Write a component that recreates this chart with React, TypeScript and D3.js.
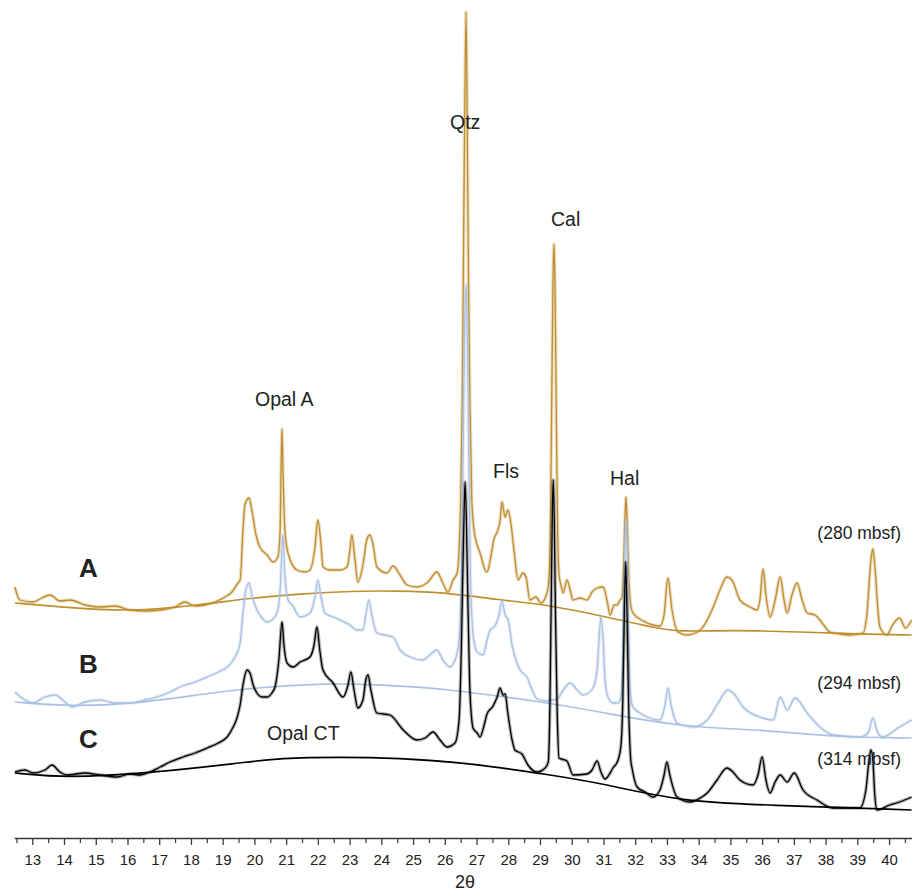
import React, { useEffect, useRef } from 'react';
import * as d3 from 'd3';

type Pt = [number, number];

// 2θ (deg) vs stacked intensity (arbitrary units)
const patternA: Pt[] = [
  [12.45, 233], [12.61, 220], [13.02, 218], [13.3, 222], [13.56, 225], [13.87, 219], [14.19, 220], [14.66, 215],
  [15.13, 213], [15.61, 214], [16.08, 210], [16.55, 209], [17.03, 210], [17.5, 213], [17.81, 218], [18.13, 214],
  [18.44, 215], [18.76, 218], [19.07, 223], [19.29, 228], [19.48, 237], [19.55, 240], [19.64, 290], [19.7, 315],
  [19.83, 322], [19.92, 310], [20.05, 285], [20.17, 273], [20.4, 265], [20.59, 258], [20.74, 263], [20.81, 290],
  [20.84, 350], [20.87, 391], [20.9, 350], [20.96, 290], [21.06, 267], [21.34, 250], [21.59, 248], [21.75, 250],
  [21.91, 273], [22.0, 300], [22.1, 275], [22.16, 253], [22.38, 250], [22.7, 250], [22.92, 253], [23.01, 270],
  [23.07, 285], [23.17, 260], [23.26, 238], [23.42, 255], [23.54, 280], [23.64, 285], [23.74, 275], [23.86, 253],
  [24.18, 247], [24.37, 254], [24.59, 245], [24.81, 235], [25.12, 233], [25.47, 238], [25.75, 248], [25.94, 237],
  [26.1, 228], [26.26, 240], [26.39, 247], [26.45, 270], [26.5, 320], [26.55, 420], [26.58, 530], [26.62, 680],
  [26.67, 808], [26.71, 680], [26.75, 530], [26.79, 420], [26.85, 320], [26.92, 290], [27.02, 275], [27.11, 267],
  [27.27, 250], [27.33, 248], [27.46, 265], [27.55, 281], [27.65, 288], [27.74, 299], [27.8, 318], [27.9, 303],
  [27.99, 310], [28.09, 295], [28.18, 270], [28.31, 240], [28.46, 247], [28.56, 243], [28.68, 220], [28.87, 223],
  [29.03, 217], [29.22, 227], [29.28, 240], [29.33, 300], [29.37, 420], [29.41, 540], [29.44, 576], [29.47, 540],
  [29.51, 420], [29.55, 300], [29.6, 245], [29.66, 235], [29.73, 227], [29.85, 240], [29.95, 230], [30.04, 220],
  [30.26, 222], [30.48, 220], [30.64, 228], [30.8, 232], [30.99, 233], [31.11, 220], [31.21, 205], [31.34, 215],
  [31.43, 215], [31.52, 220], [31.58, 222], [31.63, 250], [31.67, 295], [31.71, 323], [31.75, 295], [31.79, 250],
  [31.86, 215], [31.93, 207], [32.25, 199], [32.56, 195], [32.78, 194], [32.91, 205], [33.03, 242], [33.16, 210],
  [33.35, 188], [33.63, 185], [34.05, 190], [34.27, 200], [34.46, 213], [34.67, 230], [34.89, 243], [35.05, 240],
  [35.3, 220], [35.62, 213], [35.84, 210], [35.93, 220], [36.03, 251], [36.12, 225], [36.25, 203], [36.41, 220],
  [36.57, 243], [36.69, 220], [36.79, 207], [36.94, 225], [37.1, 237], [37.26, 220], [37.42, 207], [37.67, 205],
  [37.82, 200], [38.14, 188], [38.45, 186], [38.77, 185], [39.18, 187], [39.3, 205], [39.43, 260], [39.49, 271],
  [39.55, 255], [39.65, 210], [39.71, 193], [39.93, 185], [40.11, 195], [40.33, 202], [40.52, 192], [40.71, 200],
];

const patternB: Pt[] = [
  [12.45, 128], [12.77, 120], [13.02, 117], [13.4, 123], [13.72, 125], [14.03, 118], [14.25, 113], [14.66, 118],
  [15.13, 120], [15.61, 117], [16.08, 117], [16.55, 120], [16.93, 123], [17.34, 128], [17.65, 133], [18.13, 138],
  [18.51, 143], [18.86, 148], [19.14, 153], [19.39, 163], [19.55, 177], [19.64, 207], [19.73, 230], [19.83, 237],
  [19.92, 225], [20.08, 210], [20.24, 202], [20.4, 198], [20.55, 200], [20.71, 207], [20.81, 230], [20.87, 270],
  [20.9, 285], [20.96, 245], [21.06, 220], [21.19, 215], [21.44, 203], [21.75, 207], [21.91, 223], [22.0, 240],
  [22.1, 223], [22.22, 207], [22.48, 203], [22.7, 200], [23.01, 195], [23.23, 190], [23.42, 190], [23.51, 205],
  [23.61, 220], [23.7, 205], [23.86, 187], [24.11, 185], [24.37, 183], [24.59, 170], [24.9, 163], [25.31, 160],
  [25.53, 165], [25.75, 170], [25.94, 160], [26.16, 153], [26.32, 160], [26.39, 167], [26.45, 180], [26.52, 240],
  [26.58, 380], [26.62, 480], [26.67, 535], [26.71, 480], [26.75, 380], [26.81, 240], [26.88, 190], [26.94, 175],
  [27.02, 168], [27.21, 165], [27.33, 180], [27.43, 190], [27.58, 194], [27.71, 205], [27.8, 219], [27.9, 205],
  [27.99, 201], [28.12, 175], [28.24, 160], [28.37, 150], [28.59, 143], [28.75, 130], [28.91, 121], [29.22, 119],
  [29.38, 120], [29.54, 121], [29.73, 130], [29.95, 137], [30.17, 130], [30.36, 125], [30.67, 132], [30.8, 150],
  [30.86, 180], [30.92, 203], [30.99, 180], [31.05, 140], [31.14, 123], [31.3, 117], [31.46, 117], [31.55, 123],
  [31.61, 160], [31.66, 250], [31.71, 300], [31.76, 250], [31.81, 160], [31.88, 118], [31.93, 113], [32.15, 107],
  [32.37, 103], [32.78, 100], [32.94, 115], [33.03, 132], [33.13, 115], [33.32, 97], [33.83, 93], [34.27, 100],
  [34.58, 115], [34.92, 130], [35.14, 125], [35.4, 113], [35.93, 103], [36.35, 100], [36.57, 123], [36.79, 110],
  [37.04, 122], [37.42, 107], [37.82, 93], [38.23, 85], [39.08, 83], [39.34, 87], [39.49, 102], [39.65, 87],
  [39.8, 83], [40.33, 93], [40.71, 100],
];

const patternC: Pt[] = [
  [12.45, 48], [12.77, 50], [13.02, 47], [13.4, 50], [13.62, 55], [13.87, 48], [14.09, 45], [14.66, 47],
  [15.13, 45], [15.67, 43], [16.08, 46], [16.39, 45], [16.71, 48], [17.03, 53], [17.34, 58], [17.75, 63],
  [18.13, 67], [18.51, 72], [18.86, 77], [19.14, 83], [19.33, 93], [19.45, 102], [19.55, 115], [19.64, 135],
  [19.77, 150], [19.86, 147], [19.96, 135], [20.08, 127], [20.24, 123], [20.4, 123], [20.55, 127], [20.65, 133],
  [20.77, 160], [20.87, 198], [20.93, 175], [21.03, 157], [21.22, 153], [21.44, 158], [21.75, 163], [21.88, 175],
  [21.97, 193], [22.06, 170], [22.16, 150], [22.48, 137], [22.79, 123], [22.95, 135], [23.04, 148], [23.14, 130],
  [23.26, 112], [23.42, 120], [23.51, 140], [23.58, 145], [23.67, 130], [23.86, 107], [24.27, 105], [24.69, 90],
  [25.12, 80], [25.38, 82], [25.63, 88], [25.85, 80], [26.07, 73], [26.32, 77], [26.45, 100], [26.52, 170],
  [26.57, 250], [26.61, 310], [26.64, 338], [26.68, 300], [26.72, 230], [26.78, 140], [26.85, 100], [26.89, 92],
  [27.02, 87], [27.11, 83], [27.24, 95], [27.33, 106], [27.52, 114], [27.65, 123], [27.74, 132], [27.84, 125],
  [27.9, 126], [27.99, 106], [28.12, 80], [28.21, 70], [28.43, 66], [28.62, 55], [28.91, 48], [29.16, 52],
  [29.26, 58], [29.31, 110], [29.35, 210], [29.39, 310], [29.42, 340], [29.45, 300], [29.49, 200], [29.54, 110],
  [29.6, 62], [29.85, 59], [30.04, 45], [30.48, 46], [30.64, 50], [30.8, 59], [30.92, 48], [31.05, 41],
  [31.3, 52], [31.46, 60], [31.55, 74], [31.61, 120], [31.66, 210], [31.7, 258], [31.74, 210], [31.79, 120],
  [31.86, 60], [31.9, 52], [32.06, 33], [32.31, 28], [32.56, 23], [32.78, 30], [32.91, 45], [33.0, 58],
  [33.09, 45], [33.32, 23], [33.73, 18], [34.05, 22], [34.27, 27], [34.58, 40], [34.89, 52], [35.08, 48],
  [35.3, 40], [35.71, 35], [35.87, 45], [36.0, 63], [36.12, 40], [36.25, 27], [36.41, 38], [36.57, 45],
  [36.79, 38], [37.01, 47], [37.29, 30], [37.73, 20], [38.23, 12], [39.08, 12], [39.27, 30], [39.37, 60],
  [39.43, 70], [39.49, 60], [39.55, 25], [39.62, 10], [40.02, 15], [40.33, 18], [40.71, 23],
];

// fitted amorphous backgrounds
const baselineA: Pt[] = [
  [12.45, 217], [13.87, 213], [16.08, 208], [18.29, 215], [19.86, 222], [21.44, 226], [23.01, 229], [24.59, 229],
  [25.85, 228], [27.74, 220], [29.32, 215], [31.11, 203], [32.47, 193], [33.41, 188], [35.08, 190], [37.19, 188],
  [39.08, 186], [40.71, 185],
];
const baselineB: Pt[] = [
  [12.45, 118], [13.87, 114], [16.17, 115], [19.55, 132], [22.38, 137], [23.96, 135], [25.85, 132], [29.32, 117],
  [30.89, 108], [33.41, 93], [36.15, 90], [38.23, 83], [40.71, 82],
];
const baselineC: Pt[] = [
  [12.45, 47], [14.09, 42], [16.71, 47], [19.55, 57], [20.81, 62], [22.7, 63], [24.49, 62], [26.79, 57],
  [29.32, 45], [30.89, 37], [33.51, 18], [36.15, 15], [40.71, 10],
];

const majorTicks = [13, 14, 15, 16, 17, 18, 19, 20, 21, 22, 23, 24, 25, 26, 27, 28, 29, 30, 31, 32, 33, 34, 35, 36, 37, 38, 39, 40];
const minorTicks = [12.5, 13.5, 14.5, 15.5, 16.5, 17.5, 18.5, 19.5, 20.5, 21.5, 22.5, 23.5, 24.5, 25.5, 26.5, 27.5, 28.5,
  29.5, 30.5, 31.5, 32.5, 33.5, 34.5, 35.5, 36.5, 37.5, 38.5, 39.5, 40.5];

const sampleNames = ['A', 'B', 'C'];
const depths = ['(280 mbsf)', '(294 mbsf)', '(314 mbsf)'];

const W = 912;
const H = 894;
const FONT = "'Liberation Sans', Arial, Helvetica, sans-serif";

const App = () => {
  const ref = useRef<SVGSVGElement>(null);

  useEffect(() => {
    if (!ref.current) return;
    const svg = d3.select(ref.current);
    svg.selectAll('*').remove();

    const x = d3.scaleLinear().domain([12.43, 40.72]).range([14.2, 911.9]);
    const y = d3.scaleLinear().domain([0, 810]).range([820, 10]);

    const trace = d3.line<Pt>().x(d => x(d[0])).y(d => y(d[1])).curve(d3.curveMonotoneX);
    const smooth = d3.line<Pt>().x(d => x(d[0])).y(d => y(d[1])).curve(d3.curveBasis);

    const series = [
      { data: patternA, base: baselineA, color: '#bf8e2f' },
      { data: patternB, base: baselineB, color: '#a9c1e3' },
      { data: patternC, base: baselineC, color: '#000000' },
    ];

    const plot = svg.append('g');
    series.forEach(s => {
      plot.append('path')
        .attr('d', smooth(s.base))
        .attr('fill', 'none')
        .attr('stroke', s.color)
        .attr('stroke-width', 1.6);
    });
    series.forEach(s => {
      // soft halo to mimic the counting noise band of the raw scans
      plot.append('path')
        .attr('d', trace(s.data))
        .attr('fill', 'none')
        .attr('stroke', s.color)
        .attr('stroke-opacity', 0.3)
        .attr('stroke-width', 3.5)
        .attr('stroke-linejoin', 'round');
      plot.append('path')
        .attr('d', trace(s.data))
        .attr('fill', 'none')
        .attr('stroke', s.color)
        .attr('stroke-width', 1.3)
        .attr('stroke-linejoin', 'round');
    });

    // x axis
    const axisY = 838;
    const minor = svg.append('g').attr('transform', `translate(0,${axisY})`)
      .call(d3.axisBottom(x).tickValues(minorTicks).tickSize(5).tickSizeOuter(0).tickFormat(() => ''));
    minor.select('.domain').remove();
    minor.selectAll('line').attr('stroke', '#3a3a3a').attr('stroke-width', 1.2);

    const major = svg.append('g').attr('transform', `translate(0,${axisY})`)
      .call(d3.axisBottom(x).tickValues(majorTicks).tickSize(7).tickSizeOuter(0).tickPadding(9)
        .tickFormat(d3.format('d')));
    major.select('.domain').attr('stroke', '#3a3a3a').attr('stroke-width', 1.6);
    major.selectAll('line').attr('stroke', '#3a3a3a').attr('stroke-width', 1.3);
    major.selectAll('text').attr('font-family', FONT).attr('font-size', 15).attr('fill', '#222');

    svg.append('text')
      .attr('x', 465).attr('y', 888)
      .attr('text-anchor', 'middle')
      .attr('font-family', FONT).attr('font-size', 18).attr('fill', '#222')
      .text('2θ');

    // mineral annotations
    const notes = [
      { t: 'Opal A', x: 255, y: 406 },
      { t: 'Qtz', x: 450, y: 129 },
      { t: 'Cal', x: 551, y: 226 },
      { t: 'Fls', x: 493, y: 478 },
      { t: 'Hal', x: 610, y: 485 },
      { t: 'Opal CT', x: 267, y: 740 },
    ];
    svg.append('g').selectAll('text').data(notes).enter().append('text')
      .attr('x', d => d.x).attr('y', d => d.y)
      .attr('font-family', FONT).attr('font-size', 19.5).attr('fill', '#222')
      .text(d => d.t);

    // sample letters and depths
    const letterY = [577, 673, 748];
    svg.append('g').selectAll('text').data(sampleNames).enter().append('text')
      .attr('x', 79).attr('y', (d, i) => letterY[i])
      .attr('font-family', FONT).attr('font-size', 26).attr('font-weight', 'bold').attr('fill', '#222')
      .text(d => d);

    const depthY = [539, 689, 765];
    svg.append('g').selectAll('text').data(depths).enter().append('text')
      .attr('x', 901).attr('y', (d, i) => depthY[i])
      .attr('text-anchor', 'end')
      .attr('font-family', FONT).attr('font-size', 17.5).attr('fill', '#222')
      .text(d => d);
  }, []);

  return (
    <svg
      ref={ref}
      width={W}
      height={H}
      style={{ position: 'absolute', left: 0, top: 0, background: '#fff' }}
    />
  );
};

export default App;
